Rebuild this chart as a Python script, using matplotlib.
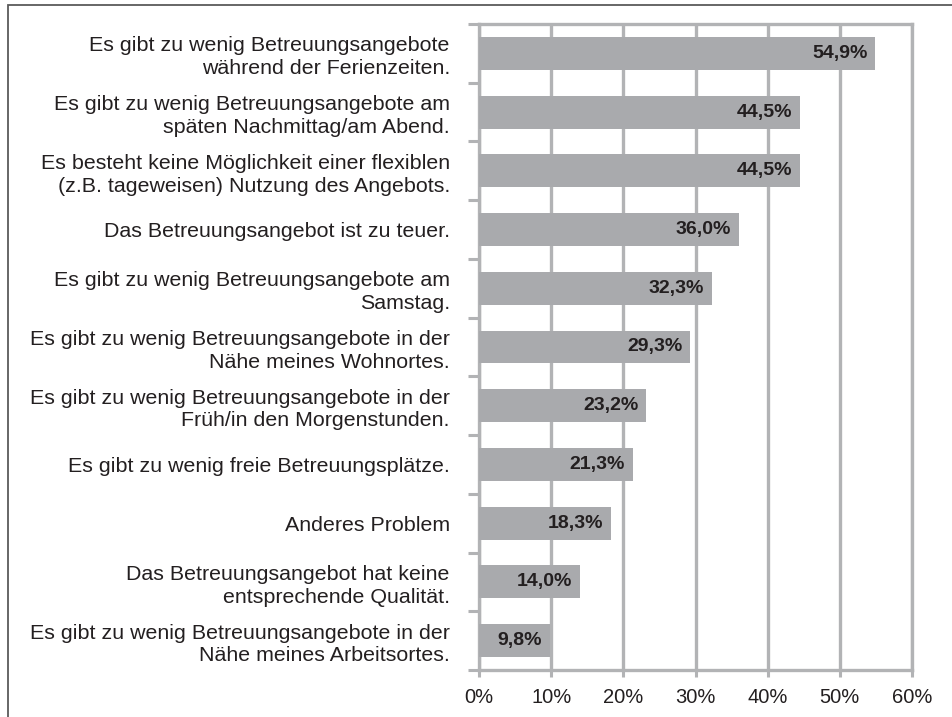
import numpy as np
import matplotlib
matplotlib.use("Agg")
import matplotlib.pyplot as plt
from matplotlib.patches import Rectangle

plt.rcParams['font.family'] = ['Liberation Sans', 'DejaVu Sans']

labels = [
    "Es gibt zu wenig Betreuungsangebote\nwährend der Ferienzeiten.",
    "Es gibt zu wenig Betreuungsangebote am\nspäten Nachmittag/am Abend.",
    "Es besteht keine Möglichkeit einer flexiblen\n(z.B. tageweisen) Nutzung des Angebots.",
    "Das Betreuungsangebot ist zu teuer.",
    "Es gibt zu wenig Betreuungsangebote am\nSamstag.",
    "Es gibt zu wenig Betreuungsangebote in der\nNähe meines Wohnortes.",
    "Es gibt zu wenig Betreuungsangebote in der\nFrüh/in den Morgenstunden.",
    "Es gibt zu wenig freie Betreuungsplätze.",
    "Anderes Problem",
    "Das Betreuungsangebot hat keine\nentsprechende Qualität.",
    "Es gibt zu wenig Betreuungsangebote in der\nNähe meines Arbeitsortes.",
]
values = [54.9, 44.5, 44.5, 36.0, 32.3, 29.3, 23.2, 21.3, 18.3, 14.0, 9.8]
xticks = [0, 10, 20, 30, 40, 50, 60]

grey = '#b2b3b5'
bar_col = '#a9aaad'
txt = '#231f20'

fig = plt.figure(figsize=(9.52, 7.17), dpi=100)
ax = fig.add_axes([479/952, 1 - 670/717, (912 - 479)/952, (670 - 24)/717])

# outer frame (only left and top edges are visible)
fig.patches.append(Rectangle((8/952, -0.05), 1.2, 1 - 5/717 + 0.05, transform=fig.transFigure,
                             fill=False, edgecolor='#5a5a5a', linewidth=1.3))

y = np.arange(len(values))
ax.barh(y, values, height=0.56, color=bar_col, zorder=3)

for yi, v in zip(y, values):
    ax.text(v - 1.1, yi, f"{v:.1f}%".replace('.', ','), ha='right', va='center',
            fontsize=14, fontweight='bold', color=txt, zorder=4)

ax.set_xlim(0, 60)
ax.set_ylim(len(values) - 0.5, -0.5)
ax.set_xticks(xticks)
ax.set_xticklabels([f"{t}%" for t in xticks], fontsize=14.5, color=txt)
ax.set_yticks(y)
ax.set_yticklabels(labels, fontsize=15.4, color=txt, linespacing=1.25)
ax.tick_params(axis='y', length=0, pad=21)
ax.set_yticks(np.arange(-0.5, len(values)), minor=True)
ax.tick_params(axis='y', which='minor', length=8, width=2.2, color=grey, direction='out')
ax.tick_params(axis='x', length=5, width=2.2, color=grey, pad=8)

ax.grid(axis='x', color=grey, linewidth=2.4, zorder=1)
for s in ax.spines.values():
    s.set_color(grey)
    s.set_linewidth(2.4)

fig.savefig("out.png", dpi=100)
